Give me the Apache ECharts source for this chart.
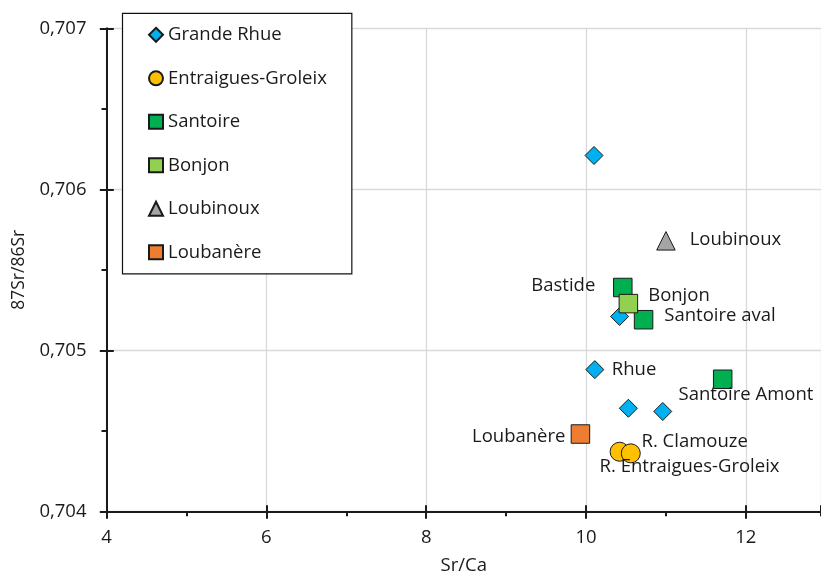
<!DOCTYPE html>
<html>
<head>
<meta charset="utf-8">
<script src="https://cdn.jsdelivr.net/npm/echarts@6/dist/echarts.min.js"></script>
<style>
html,body{margin:0;padding:0;background:#fff}
#chart{width:821px;height:574px}
</style>
</head>
<body>
<div id="chart"></div>
<script>
// valeurs
var grandeRhueX = [10.10, 10.42, 10.11, 10.53, 10.96];
var grandeRhueY = [0.70621, 0.70521, 0.70488, 0.70464, 0.70462];
var grandeRhueLabels = ['', '', 'Rhue', '', ''];

var entraiguesX = [10.42, 10.56];
var entraiguesY = [0.70437, 0.70436];
var entraiguesLabels = ['R. Entraigues-Groleix', 'R. Clamouze'];

var santoireX = [10.46, 10.72, 11.71];
var santoireY = [0.70539, 0.70519, 0.70482];
var santoireLabels = ['Bastide', 'Santoire aval', 'Santoire Amont'];

var bonjonX = [10.53];
var bonjonY = [0.70529];
var bonjonLabels = ['Bonjon'];

var loubinouxX = [11.00];
var loubinouxY = [0.70568];
var loubinouxLabels = ['Loubinoux'];

var loubanereX = [9.93];
var loubanereY = [0.70448];
var loubanereLabels = ['Loubanère'];

var xMin = 4, xMax = 12.94, xStep = 2;
var yMin = 0.704, yMax = 0.707, yStep = 0.001;

// placement des étiquettes (par rapport au centre du symbole)
var labelPlace = {
	'Rhue': {align: 'left', offset: [17, 0]},
	'R. Entraigues-Groleix': {align: 'left', offset: [-20, 15]},
	'R. Clamouze': {align: 'left', offset: [10.7, -11.6]},
	'Bastide': {align: 'right', offset: [-27.5, -1.8]},
	'Santoire aval': {align: 'left', offset: [20.7, -4.3]},
	'Santoire Amont': {align: 'center', offset: [23.3, 15.7]},
	'Bonjon': {align: 'left', offset: [19.8, -7.8]},
	'Loubinoux': {align: 'left', offset: [23.7, -1.5]},
	'Loubanère': {align: 'right', offset: [-15, 2.7]}
};

var FONT = '"Open Sans", sans-serif';
var TXT = '#1a1a1a';
var FS = 18.5;

function points(xs, ys, labels){
	var arr = [];
	for (var i = 0; i < xs.length; i++){
		var lb = labels[i], p = labelPlace[lb];
		arr.push({
			value: [xs[i], ys[i]],
			label: lb ? {show: true, formatter: lb, align: p.align, offset: p.offset} : {show: false}
		});
	}
	return arr;
}

function scatter(name, symbol, size, color, data){
	return {
		name: name,
		type: 'scatter',
		symbol: symbol,
		symbolSize: size,
		itemStyle: {color: color, borderColor: '#1a1a1a', borderWidth: 1, opacity: 1},
		label: {position: 'inside', color: TXT, fontSize: FS, fontFamily: FONT},
		emphasis: {disabled: true},
		data: data
	};
}

var axisTxt = {color: TXT, fontSize: FS, fontFamily: FONT};

var option = {
	backgroundColor: '#fff',
	animation: false,
	grid: {left: 106.5, top: 28.3, right: 0, bottom: 62.7, outerBoundsMode: 'none'},
	legend: {
		orient: 'vertical',
		left: 122.5,
		top: 13.3,
		padding: [12, 25, 12, 25.5],
		itemGap: 24.5,
		itemWidth: 14,
		itemHeight: 14,
		borderColor: '#111',
		borderWidth: 1.2,
		backgroundColor: '#fff',
		textStyle: {color: TXT, fontSize: FS, fontFamily: FONT},
		data: ['Grande Rhue', 'Entraigues-Groleix', 'Santoire', 'Bonjon', 'Loubinoux', 'Loubanère']
	},
	xAxis: [{
		type: 'value', min: xMin, max: xMax, interval: xStep,
		name: 'Sr/Ca', nameLocation: 'middle', nameGap: 45, nameTextStyle: axisTxt,
		axisLine: {show: true, lineStyle: {color: '#1a1a1a', width: 2}},
		axisTick: {show: true, inside: false, length: 7.5, lineStyle: {color: '#1a1a1a', width: 2}},
		axisLabel: {margin: 17, showMaxLabel: false, color: TXT, fontSize: FS, fontFamily: FONT},
		splitLine: {show: true, lineStyle: {color: '#d9d9d9', width: 1.3}}
	}, {
		type: 'value', position: 'bottom', min: xMin, max: xMax, interval: xStep,
		axisLine: {show: false},
		axisTick: {show: true, inside: true, length: 6, lineStyle: {color: '#1a1a1a', width: 2}},
		axisLabel: {show: false},
		splitLine: {show: false}
	}, {
		type: 'value', position: 'bottom', min: xMin, max: xMax, interval: xStep / 2,
		axisLine: {show: false},
		axisTick: {show: true, inside: false, length: 5, lineStyle: {color: '#1a1a1a', width: 2}},
		axisLabel: {show: false},
		splitLine: {show: false}
	}],
	yAxis: [{
		type: 'value', min: yMin, max: yMax, interval: yStep,
		name: '87Sr/86Sr', nameLocation: 'middle', nameGap: 75.5, nameRotate: 90,
		nameTextStyle: {color: TXT, fontSize: 17.5, fontFamily: FONT},
		axisLine: {show: true, lineStyle: {color: '#1a1a1a', width: 2}},
		axisTick: {show: true, inside: false, length: 6.7, lineStyle: {color: '#1a1a1a', width: 2}},
		minorTick: {show: true, splitNumber: 2, length: 5, lineStyle: {color: '#1a1a1a', width: 2}},
		axisLabel: {
			margin: 20, color: TXT, fontSize: FS, fontFamily: FONT,
			formatter: function(v){ return v.toFixed(3).replace('.', ','); }
		},
		splitLine: {show: true, lineStyle: {color: '#d9d9d9', width: 1.3}}
	}, {
		type: 'value', position: 'left', min: yMin, max: yMax, interval: yStep,
		axisLine: {show: false},
		axisTick: {show: true, inside: true, length: 7.3, lineStyle: {color: '#1a1a1a', width: 2}},
		axisLabel: {show: false},
		splitLine: {show: false}
	}],
	series: [
		scatter('Grande Rhue', 'diamond', 18, '#00b0f0', points(grandeRhueX, grandeRhueY, grandeRhueLabels)),
		scatter('Entraigues-Groleix', 'circle', 19, '#ffc000', points(entraiguesX, entraiguesY, entraiguesLabels)),
		scatter('Santoire', 'rect', 18.5, '#00b050', points(santoireX, santoireY, santoireLabels)),
		scatter('Bonjon', 'rect', 18.5, '#92d050', points(bonjonX, bonjonY, bonjonLabels)),
		scatter('Loubinoux', 'triangle', 18.5, '#a5a5a5', points(loubinouxX, loubinouxY, loubinouxLabels)),
		scatter('Loubanère', 'rect', 18.5, '#ed7d31', points(loubanereX, loubanereY, loubanereLabels))
	]
};

var myChart = echarts.init(document.getElementById('chart'));
myChart.setOption(option);
</script>
</body>
</html>
